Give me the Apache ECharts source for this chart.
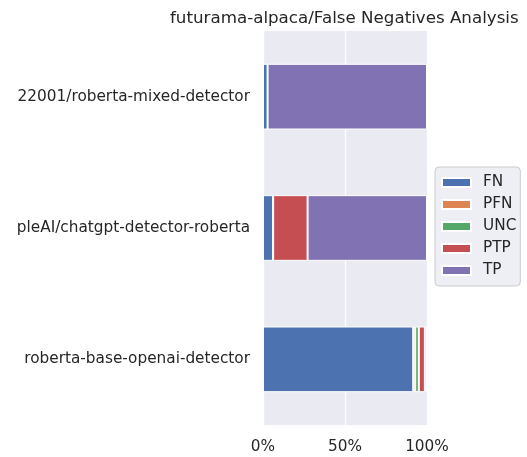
<!DOCTYPE html>
<html>
<head>
<meta charset="utf-8">
<script src="https://cdn.jsdelivr.net/npm/echarts@6/dist/echarts.min.js"></script>
<style>
  html, body { margin: 0; padding: 0; background: #fff; }
  #main { width: 527px; height: 457px; }
</style>
</head>
<body>
<div id="main"></div>
<script>
// categories, bottom to top as drawn
var categories = [
  "roberta-base-openai-detector",
  "pleAI/chatgpt-detector-roberta",
  "22001/roberta-mixed-detector"
];
var seriesNames = ["FN", "PFN", "UNC", "PTP", "TP"];
// percentages per series, same order as categories
var fnValues  = [91.6, 6.2, 2.8];
var pfnValues = [1.2, 0, 0];
var uncValues = [2.2, 0, 0];
var ptpValues = [3.7, 21.0, 0];
var tpValues  = [1.3, 72.8, 97.2];
var xTicks = [0, 50, 100];

var colors = ["#4c72b0", "#dd8452", "#55a868", "#c44e52", "#8172b3"];
var allValues = [fnValues, pfnValues, uncValues, ptpValues, tpValues];
var textColor = "#262626";
var font = "DejaVu Sans";

var series = seriesNames.map(function (name, i) {
  return {
    name: name,
    type: "bar",
    stack: "total",
    barWidth: "50%",
    itemStyle: { color: colors[i], borderColor: "#fff", borderWidth: 1 },
    emphasis: { disabled: true },
    data: allValues[i]
  };
});

var myChart = echarts.init(document.getElementById("main"));
myChart.setOption({
  animation: false,
  color: colors,
  title: {
    text: "futurama-alpaca/False Negatives Analysis",
    left: 165,
    top: 5,
    textStyle: { fontFamily: font, fontSize: 16.7, fontWeight: "normal", color: textColor }
  },
  legend: {
    orient: "vertical",
    left: 435,
    top: 167,
    itemWidth: 29,
    itemHeight: 9,
    itemGap: 7,
    padding: [8, 4, 8, 6],
    backgroundColor: "#eeeef5",
    borderColor: "#cccccc",
    borderWidth: 1,
    borderRadius: 4,
    icon: "rect",
    textStyle: { fontFamily: font, fontSize: 15.3, color: textColor, padding: [0, 0, 0, 7] },
    data: seriesNames
  },
  grid: {
    left: 263,
    right: 100,
    top: 31,
    bottom: 32,
    containLabel: false,
    backgroundColor: "#eaeaf2",
    show: true,
    borderWidth: 0
  },
  xAxis: {
    type: "value",
    min: xTicks[0],
    max: xTicks[xTicks.length - 1],
    interval: 50,
    axisLine: { show: false },
    axisTick: { show: false },
    splitLine: { show: true, lineStyle: { color: "#ffffff", width: 1.3 } },
    axisLabel: {
      formatter: "{value}%",
      margin: 15,
      fontFamily: font,
      fontSize: 15.3,
      color: textColor
    }
  },
  yAxis: {
    type: "category",
    data: categories,
    axisLine: { show: false },
    axisTick: { show: false },
    splitLine: { show: false },
    axisLabel: { margin: 13, fontFamily: font, fontSize: 15.3, color: textColor }
  },
  series: series
});
</script>
</body>
</html>
